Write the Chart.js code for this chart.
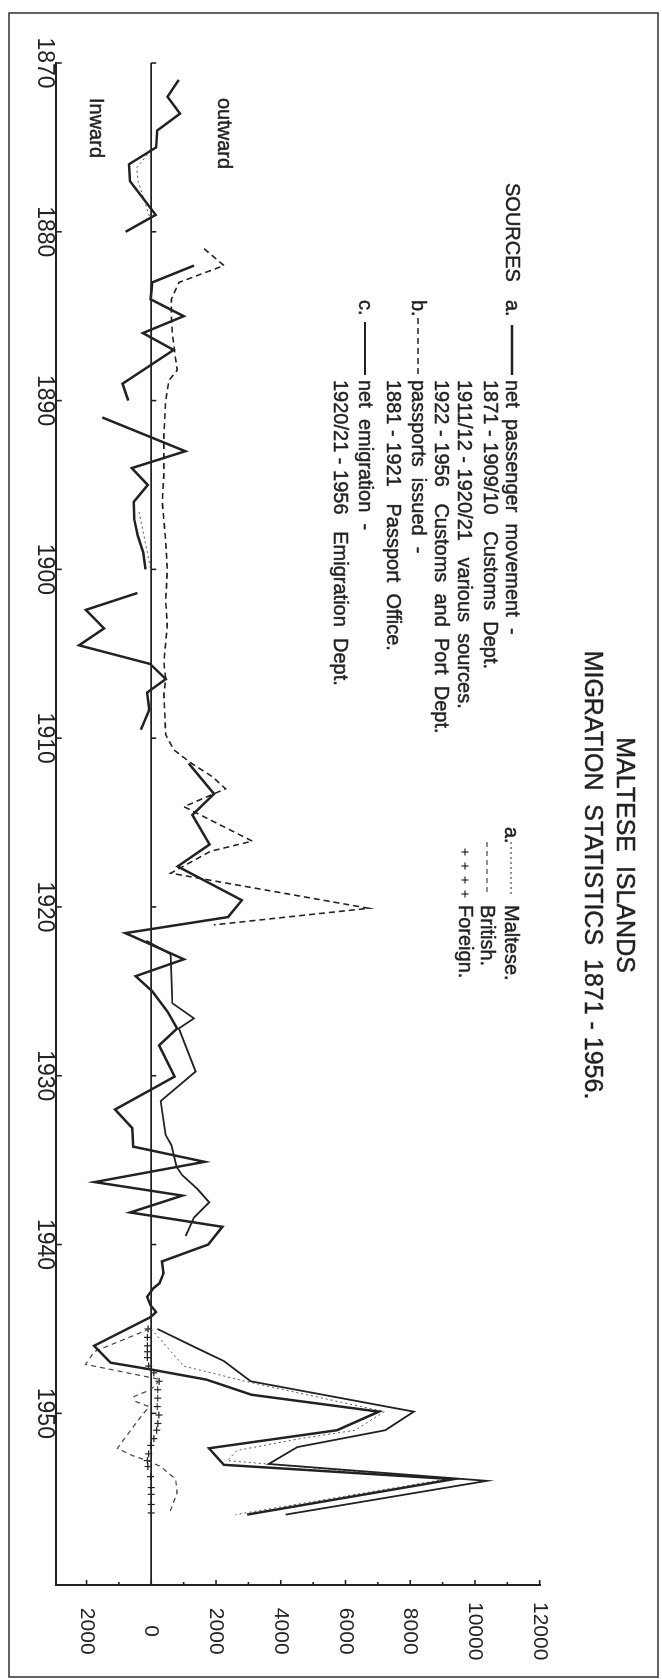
<!DOCTYPE html>
<html>
<head>
<meta charset="utf-8">
<title>Maltese Islands – Migration Statistics 1871-1956</title>
<script src="https://cdn.jsdelivr.net/npm/chart.js@4.4.1/dist/chart.umd.min.js"></script>
<style>
  html, body { margin: 0; padding: 0; background: #fff; }
  body { width: 662px; height: 1679px; overflow: hidden; position: relative; }
  /* the sheet is laid out landscape and turned a quarter turn clockwise */
  #sheet { position: absolute; left: 0; top: 0; width: 1679px; height: 662px;
           transform-origin: 0 0; transform: translate(662px, 0) rotate(90deg); }
  canvas { display: block; }
</style>
</head>
<body>
<div id="sheet"><canvas id="chart" width="1679" height="662"></canvas></div>
<script>
// ---- data (years, persons); null breaks a line where the record is missing ----
const passengerYears = [1871, 1872, 1873, 1874, 1875, 1876, 1877, 1879, 1880, 1881,
  1882, 1883, 1884, 1885, 1886, 1887, 1889, 1890, 1890.5,
  1891, 1893, 1894, 1895, 1896, 1897, 1898, 1899, 1900, 1900.7,
  1901.4, 1902.4, 1903.5, 1904.5, 1905.6, 1906.5, 1907.3, 1908.3, 1909.5, 1910.5,
  1911.5, 1913.3, 1914.55, 1916.3, 1917.6, 1919.6, 1920.6, 1921.55, 1923.1, 1924.1,
  1925.0, 1926.2, 1927.2, 1928.2, 1930.05, 1932.0, 1933.1, 1934.2, 1935.1, 1936.3,
  1937.1, 1938.1, 1938.95, 1940.0, 1941.0, 1941.7, 1942.3, 1942.6, 1943.1, 1943.6,
  1944.0, 1944.3, 1946.0, 1947.0, 1947.4, 1948.0, 1948.9, 1949.9, 1951.0, 1952.07,
  1953.05, 1953.9, 1956.0];
const passengerValues = [850, 500, 885, 185, 150, -690, -660, 135, -790, null,
  1320, 30, -20, 1000, -260, 690, -890, -710, null,
  -1515, 1050, -600, -110, -540, -530, -420, -250, -180, null,
  -430, -2020, -1460, -2235, -40, 450, -130, -60, -320, null,
  1160, 1940, 1270, 1800, 815, 2800, 2370, -800, 1010, -484,
  30, 500, 800, 240, 720, -1120, -590, -556, 1650, -1750,
  960, -650, 2195, 1760, 330, 380, 250, 60, -130, -20,
  150, -20, -1770, -1255, -20, 1700, 3100, 7030, 5740, 1780,
  2240, 9340, 2960];

const passportYears = [1881, 1882, 1883, 1884, 1885, 1886, 1887.5, 1888.2, 1888.8, 1890,
  1892, 1894.4, 1896, 1898.2, 1900, 1901.9, 1903.3, 1905.5, 1906.5, 1907.4,
  1909.8, 1910.7, 1911.5, 1912.3, 1913.0, 1914.06, 1916.1, 1916.7, 1918.0, 1920.08, 1921.06];
const passportValues = [1630, 2245, 855, 620, 620, 650, 750, 800, 545, 445,
  390, 390, 340, 440, 495, 445, 495, 390, 445, 390,
  445, 700, 1250, 1900, 2295, 1010, 3120, 1830, 600, 6720, 1935];

const emigrationYears = [1922.0, 1922.8, 1925.7, 1926.6, 1927.2, 1929.75, 1931.5, 1933.5, 1934.1,
  1935.4, 1935.9, 1936.7, 1937.5, 1938.4, 1939.5, 1942,
  1945.0, 1946.15, 1946.9, 1948.1, 1949.9, 1951.0, 1952.0, 1953.0, 1954.0, 1956.0];
const emigrationValues = [-150, 600, 650, 1320, 850, 1370, 290, 440, 620,
  780, 960, 1420, 1790, 1320, 1060, null,
  185, 1420, 2240, 3070, 8110, 7230, 4510, 3630, 10370, 4150];

const malteseYears = [1875.2, 1876.2, 1877.0, 1879.3, 1888, 1896.6, 1899.0, 1900.0, 1920,
  1945.0, 1947.2, 1948.1, 1949.9, 1951.0, 1951.5, 1952.2, 1952.8, 1953.9, 1956.0];
const malteseValues = [-20, -450, -410, -20, null, -380, -120, -20, null,
  0, 1000, 2900, 7200, 6300, 4600, 2650, 2350, 9100, 2600];

const britishYears = [1945.0, 1946.35, 1947.1, 1948.0, 1948.6, 1949.0, 1949.3, 1949.6, 1950.6,
  1952.07, 1952.5, 1952.8, 1953.15, 1953.9, 1954.7, 1956.0];
const britishValues = [-50, -1770, -2030, 290, -20, -530, -480, -70, -480,
  -1050, -590, -120, 290, 750, 800, 545];

const foreignYears = [1945.0, 1945.5, 1946.0, 1946.35, 1946.7, 1947.2, 1947.6, 1948.1, 1948.6,
  1949.1, 1949.6, 1950.1, 1950.6, 1951.0, 1951.5, 1951.9, 1952.4, 1952.8, 1953.15,
  1953.75, 1954.4, 1954.8, 1955.4, 1955.9];
const foreignValues = [-100, -120, -120, -120, -120, -80, 80, 240, 200,
  200, 185, 237, 206, 165, 82, -20, -80, -123, -103,
  -21, 0, 0, 0, 0];

const yearTicks = [1870, 1880, 1890, 1900, 1910, 1920, 1930, 1940, 1950];
const valueTicks = [-2000, -1000, 0, 1000, 2000, 3000, 4000, 5000, 6000, 7000, 8000, 9000, 10000, 11000, 12000];

// ---- drawing ----
const INK = '#222';
const SANS = '"Liberation Sans", Arial, "DejaVu Sans", sans-serif';

const toPoints = (xs, vs) => xs.map((x, i) => ({ x, y: vs[i] }));

function seg(ctx, x1, y1, x2, y2) {
  ctx.beginPath(); ctx.moveTo(x1, y1); ctx.lineTo(x2, y2); ctx.stroke();
}
function cross(ctx, cx, cy, r) {
  seg(ctx, cx - r, cy, cx + r, cy); seg(ctx, cx, cy - r, cx, cy + r);
}
// typewritten lettering is a little heavier than the plain face
function text(ctx, s, x, y) {
  ctx.fillText(s, x, y);
  ctx.strokeText(s, x, y);
}

const sheetText = {
  id: 'sheetText',
  afterDraw(chart) {
    const { ctx, chartArea: a } = chart;
    const xs = chart.scales.x, ys = chart.scales.y;
    ctx.save();

    // frame round the sheet
    ctx.strokeStyle = '#3c3c3c';
    ctx.lineWidth = 1.6;
    ctx.strokeRect(13, 4, 1664, 649);

    // tick marks pointing into the plot
    ctx.strokeStyle = INK;
    ctx.lineWidth = 1.6;
    const zero = ys.getPixelForValue(0);
    xs.ticks.forEach(t => {
      const px = xs.getPixelForValue(t.value);
      seg(ctx, px, a.bottom, px, a.bottom - 6);
      seg(ctx, px, zero, px, zero - 5);
    });
    ys.ticks.forEach(t => {
      const py = ys.getPixelForValue(t.value);
      seg(ctx, a.right, py, a.right - (t.value % 2000 === 0 ? 5 : 3), py);
    });

    ctx.fillStyle = INK;
    ctx.strokeStyle = INK;
    ctx.lineWidth = 0.45;
    ctx.textBaseline = 'alphabetic';

    // title
    ctx.font = '25px ' + SANS;
    ctx.textAlign = 'center';
    text(ctx, 'MALTESE  ISLANDS', 855, 45);
    text(ctx, 'MIGRATION  STATISTICS  1871 - 1956.', 875, 77);

    // sources
    ctx.textAlign = 'left';
    ctx.font = '20px ' + SANS;
    text(ctx, 'SOURCES', 183, 156);
    text(ctx, 'a.', 300, 156);
    text(ctx, 'net  passenger  movement  -', 380, 156);
    text(ctx, '1871 - 1909/10   Customs  Dept.', 380, 178);
    text(ctx, '1911/12 - 1920/21   various  sources.', 380, 204);
    text(ctx, '1922 - 1956   Customs  and  Port  Dept.', 380, 227);
    text(ctx, 'b.', 300, 250);
    text(ctx, 'passports  issued  -', 380, 250);
    text(ctx, '1881 - 1921   Passport  Office.', 380, 275);
    text(ctx, 'c.', 300, 303);
    text(ctx, 'net  emigration  -', 380, 303);
    text(ctx, '1920/21 - 1956   Emigration  Dept.', 380, 328);

    // breakdown key
    text(ctx, 'a.', 827, 157);
    text(ctx, 'Maltese.', 905, 157);
    text(ctx, 'British.', 905, 181);
    text(ctx, 'Foreign.', 905, 203);

    // direction labels
    text(ctx, 'outward', 98, 444);
    text(ctx, 'Inward', 98, 572);

    // line samples
    ctx.lineWidth = 2.4;
    seg(ctx, 325, 150, 375, 150);
    ctx.lineWidth = 1.6;
    ctx.setLineDash([6, 4]);
    seg(ctx, 318, 244, 375, 244);
    ctx.setLineDash([]);
    ctx.lineWidth = 1.8;
    seg(ctx, 322, 297, 375, 297);

    ctx.lineWidth = 1;
    ctx.setLineDash([2, 3]);
    seg(ctx, 842, 151, 895, 151);
    ctx.lineWidth = 1.2;
    ctx.setLineDash([5, 4]);
    seg(ctx, 842, 175, 895, 175);
    ctx.setLineDash([]);
    [852, 866, 880, 894].forEach(cx => cross(ctx, cx, 197, 3.5));

    ctx.restore();
  }
};

new Chart(document.getElementById('chart'), {
  type: 'line',
  data: {
    datasets: [
      { label: 'net passenger movement', data: toPoints(passengerYears, passengerValues),
        borderColor: INK, borderWidth: 2.5, pointRadius: 0, tension: 0 },
      { label: 'passports issued', data: toPoints(passportYears, passportValues),
        borderColor: INK, borderWidth: 1.6, borderDash: [6, 4], pointRadius: 0, tension: 0 },
      { label: 'net emigration', data: toPoints(emigrationYears, emigrationValues),
        borderColor: INK, borderWidth: 1.8, pointRadius: 0, tension: 0 },
      { label: 'Maltese', data: toPoints(malteseYears, malteseValues),
        borderColor: '#555', borderWidth: 1, borderDash: [2, 3], pointRadius: 0, tension: 0 },
      { label: 'British', data: toPoints(britishYears, britishValues),
        borderColor: '#444', borderWidth: 1.2, borderDash: [5, 4], pointRadius: 0, tension: 0 },
      { label: 'Foreign', data: toPoints(foreignYears, foreignValues),
        borderColor: INK, borderWidth: 1.2, showLine: false,
        pointStyle: 'cross', pointRadius: 3.5, pointBorderColor: INK, pointBorderWidth: 1.2 }
    ]
  },
  options: {
    responsive: false,
    animation: false,
    devicePixelRatio: 1,
    layout: { padding: { left: 63, top: 122.3, right: 0, bottom: 0 } },
    plugins: { legend: { display: false }, title: { display: false }, tooltip: { enabled: false } },
    scales: {
      x: {
        type: 'linear', position: 'bottom', min: 1870, max: 1960.17,
        afterBuildTicks: s => { s.ticks = yearTicks.map(v => ({ value: v })); },
        afterFit: s => { s.height = 55.8; },
        ticks: { color: INK, padding: 0, maxRotation: 0, autoSkip: false,
                 font: { family: SANS, size: 23, lineHeight: 1 },
                 callback: v => String(v) },
        grid: { drawOnChartArea: false, drawTicks: false },
        border: { display: true, color: INK, width: 2 }
      },
      y: {
        type: 'linear', position: 'right', min: -2950, max: 12000,
        afterBuildTicks: s => { s.ticks = valueTicks.map(v => ({ value: v })); },
        afterFit: s => { s.width = 94; },
        ticks: { color: INK, padding: 17, crossAlign: 'center', autoSkip: false,
                 font: { family: SANS, size: 21, lineHeight: 1 },
                 callback: v => (v % 2000 === 0 ? String(Math.abs(v)) : '') },
        grid: { drawTicks: false,
                color: c => (c.tick && c.tick.value === 0 ? INK : 'rgba(0,0,0,0)'),
                lineWidth: c => (c.tick && c.tick.value === 0 ? 1.8 : 0) },
        border: { display: true, color: INK, width: 2 }
      }
    }
  },
  plugins: [sheetText]
});
</script>
</body>
</html>
